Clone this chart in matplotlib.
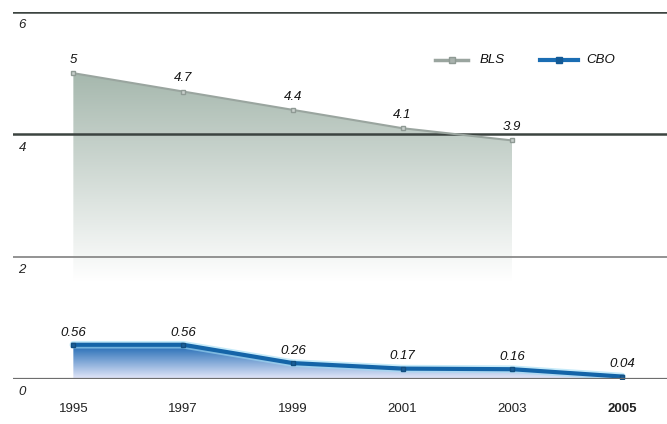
import numpy as np
import matplotlib
matplotlib.use("Agg")
import matplotlib.pyplot as plt
from matplotlib.colors import LinearSegmentedColormap

years = [1995, 1997, 1999, 2001, 2003, 2005]
bls_years = [1995, 1997, 1999, 2001, 2003]
bls_values = [5, 4.7, 4.4, 4.1, 3.9]
bls_labels = ["5", "4.7", "4.4", "4.1", "3.9"]
cbo_values = [0.56, 0.56, 0.26, 0.17, 0.16, 0.04]
cbo_labels = ["0.56", "0.56", "0.26", "0.17", "0.16", "0.04"]
y_ticks = [0, 2, 4, 6]
series_names = ["BLS", "CBO"]

fig = plt.figure(figsize=(6.67, 4.24), dpi=100)
ax = fig.add_axes([13 / 667, 45 / 424, 654 / 667, 367 / 424])
ax.set_xlim(1993.9, 2005.82)
ax.set_ylim(0, 6)
ax.axis("off")

font = dict(family="Liberation Sans", style="italic")


def gradient_fill(x, y, top_rgb, bottom_rgb, y_top, y_bottom, zorder):
    poly = ax.fill_between(x, y, 0, color="none", lw=0, zorder=zorder)
    cmap = LinearSegmentedColormap.from_list("g", [bottom_rgb, top_rgb])
    grad = np.linspace(0, 1, 256).reshape(-1, 1)
    im = ax.imshow(grad, cmap=cmap, aspect="auto", origin="lower",
                   extent=[min(x), max(x), y_bottom, y_top], zorder=zorder,
                   interpolation="bicubic")
    im.set_clip_path(poly.get_paths()[0], transform=ax.transData)


# grey area (BLS)
gradient_fill(bls_years, bls_values, (0.65, 0.72, 0.68), (1.0, 1.0, 1.0),
              5.0, 1.6, 1)
# blue area (CBO)
gradient_fill(years, cbo_values, (0.10, 0.40, 0.70), (0.90, 0.91, 0.98),
              0.56, 0.0, 2)

# horizontal reference lines
for v in y_ticks:
    if v == 2:
        ax.axhline(v, color="#8a8a8a", lw=1.3, zorder=3)
    elif v == 0:
        ax.axhline(v, color="#6e6e6e", lw=1.6, zorder=5)
    else:
        ax.axhline(v, color="#3c4440", lw=1.8, zorder=3)
    ax.text(1994.0, v - 0.12, str(v), ha="left", va="top", fontsize=9.5,
            color="#222222", **font)

# BLS line
ax.plot(bls_years, bls_values, color="#9aa59f", lw=1.5, marker="s",
        markersize=3.5, markerfacecolor="#c9d0cc", markeredgecolor="#8f9a94",
        zorder=4)
for x, v, s in zip(bls_years, bls_values, bls_labels):
    ax.text(x, v + 0.12, s, ha="center", va="bottom", fontsize=9.5,
            color="#111111", zorder=6, **font)

# CBO line
ax.plot(years, cbo_values, color="#9fdcf5", lw=5.5, solid_capstyle="round",
        alpha=0.6, zorder=4)
ax.plot(years, cbo_values, color="#1464a8", lw=3.0, marker="s",
        markersize=3.5, markerfacecolor="#1a5f9a", markeredgecolor="#124e80",
        zorder=4.5)
for x, v, s in zip(years, cbo_values, cbo_labels):
    ax.text(x, v + 0.1, s, ha="center", va="bottom", fontsize=9.5,
            color="#111111", zorder=6, **font)

# year labels
for x in years:
    ax.text(x, -0.4, str(x), ha="center", va="top", fontsize=9.5,
            color="#222222", fontweight="bold" if x == 2005 else "normal",
            family="Liberation Sans")

# legend
ly = 5.21
lx = [2001.6, 2002.2]
ax.plot(lx, [ly, ly], color="#9aa59f", lw=2.5, zorder=6)
ax.plot([np.mean(lx)], [ly], marker="s", markersize=4, color="#a9b2ad",
        markeredgecolor="#8f9a94", zorder=7)
ax.text(2002.4, ly, series_names[0], ha="left", va="center", fontsize=9.5,
        color="#111111", **font)
bx = [2003.5, 2004.2]
ax.plot(bx, [ly, ly], color="#1a6db3", lw=3.0, zorder=6)
ax.plot([np.mean(bx)], [ly], marker="s", markersize=4, color="#135a96",
        zorder=7)
ax.text(2004.35, ly, series_names[1], ha="left", va="center", fontsize=9.5,
        color="#111111", **font)

fig.savefig("out.png", dpi=100)
